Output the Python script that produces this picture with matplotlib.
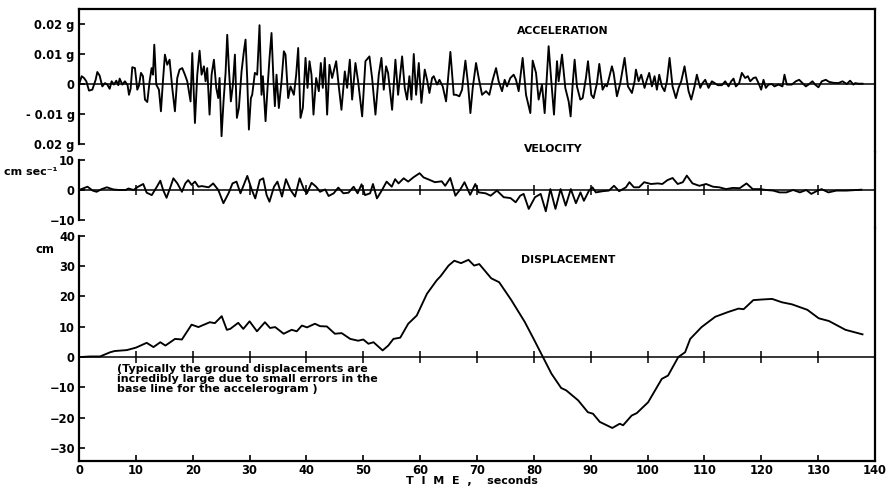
import numpy as np
import matplotlib
matplotlib.use("Agg")
import matplotlib.pyplot as plt

# ---------------- data ----------------
# acceleration: time (s) and value in units of 0.001 g
acc_t = [0.0, 0.47, 0.88, 1.29, 1.76, 2.34, 2.93, 3.22, 3.63, 4.10, 4.57, 4.98, 5.39, 5.74,
         6.15, 6.56, 6.91, 7.15, 7.62, 8.08, 8.55, 8.79, 9.08, 9.37, 9.84, 10.25, 10.54, 10.90,
         11.25, 11.60, 12.01, 12.42, 12.77, 13.01, 13.24, 13.59, 14.06, 14.41, 14.76, 15.11,
         15.52, 15.93, 16.40, 16.87, 17.28, 17.69, 18.16, 18.63, 19.04, 19.62, 19.92, 20.39,
         20.80, 21.21, 21.56, 21.97, 22.26, 22.55, 22.96, 23.32, 23.73, 24.14, 24.49, 24.72,
         25.07, 25.42, 25.78, 26.07, 26.36, 26.71, 27.07, 27.42, 27.77,
         28.12, 28.59, 29.00, 29.29, 29.58, 29.88, 30.23, 30.46, 30.93, 31.34, 31.75, 32.10,
         32.34, 32.81, 33.16, 33.51, 33.86, 34.21, 34.45, 34.74, 35.15, 35.62, 36.03, 36.32,
         36.79, 37.20, 37.79, 38.20, 38.55, 38.96, 39.37, 39.84, 40.19, 40.54, 40.89, 41.24,
         41.71, 42.18, 42.53, 42.88, 43.23, 43.64, 44.05, 44.52, 45.23, 45.69, 46.16, 46.75,
         47.16, 47.63, 48.04, 48.62, 49.09, 49.80, 50.38, 51.08, 51.55, 52.14, 52.72, 53.19,
         53.60, 54.01, 54.36, 55.07, 55.65, 56.12,
         56.83, 57.29, 57.70, 58.11, 58.47, 58.88, 59.29, 59.76, 60.22, 60.81, 61.22, 61.63,
         62.10, 62.39, 62.98, 63.39, 63.97, 64.56, 65.32, 65.91, 66.32, 66.90, 67.37, 67.96,
         68.43, 68.84, 69.25, 69.83, 70.30, 70.89, 71.59, 72.17, 72.76, 73.35, 73.81, 74.40,
         74.87, 75.28, 75.86, 76.45, 76.86, 77.33, 78.03, 78.62, 79.38, 79.79, 80.38, 80.84,
         81.43, 81.90, 82.60, 83.07, 83.54, 84.07,
         84.36, 84.95, 85.53, 86.12, 86.47, 86.82, 87.17, 87.58, 88.17, 88.58, 89.16, 89.52,
         90.10, 90.51, 91.10, 91.51, 92.09, 92.56, 92.85, 93.15, 93.73, 94.03, 94.61, 95.20,
         95.96, 96.55, 97.25, 97.72, 97.95, 98.42, 98.89, 99.47, 99.88, 100.29, 100.76, 101.23,
         101.64, 102.05, 102.52, 102.99, 103.40, 103.87, 104.39, 104.98, 105.45, 105.92,
         106.50, 107.21, 107.68, 108.26, 108.67, 109.26, 109.67, 110.14, 110.72, 111.31,
         111.78, 112.36,
         113.07, 113.65, 114.24, 114.71, 115.12, 115.53, 116.11, 116.58, 117.17, 117.64,
         118.05, 118.63, 119.04, 119.51, 119.98, 120.39, 120.80, 121.27, 121.85, 122.32,
         123.02, 123.73, 124.08, 124.49, 125.37, 126.07, 126.66, 127.24, 127.83, 128.30,
         129.00, 129.47, 130.05, 130.64, 131.34, 131.93, 132.69, 133.57, 134.28, 135.04,
         135.62, 136.21, 136.50, 137.09, 137.81]
acc_mg = [-0.2, 2.6, 2.0, 0.9, -2.2, -1.9, 1.4, 4.0, 2.8, -0.8, 0.3, -0.2, -1.6, 0.9,
          -0.2, 1.1, -0.4, 1.8, -0.2, 0.9, -0.4, -3.6, -1.6, 5.6, 5.3, -1.9, -0.6, 3.7,
          2.6, -5.2, -6.0, 0.9, 5.3, 3.1, 13.1, -0.2, -1.9, -9.1, 0.9, 9.8,
          6.4, 8.1, -1.3, -9.1, 2.0, 4.8, 5.3, 3.1, 0.9, -5.8, 10.3, -13.0,
          3.1, 11.1, 3.1, 5.9, 0.9, 5.3, -10.2, 3.1, 8.1, -1.3, -4.7, 2.0,
          -17.4, -5.8, 3.7, 16.4, 5.3, -5.8, -0.2, 9.8, -11.3,
          -8.0, 4.2, 10.9, 14.8, 2.0, -15.2, -4.7, -3.6, 3.7, 3.1, 19.6, -3.6,
          2.6, -12.4, -1.3, 8.7, 17.0, 0.9, -7.4, 3.1, -8.0, 0.9, 10.9, 9.8,
          -4.7, -0.8, -3.6, 3.1, 12.0, -11.3, -8.0, 8.7, -1.3, 7.6, 3.1, -10.2,
          2.0, -2.4, 7.0, -1.3, 8.7, -10.2, 6.4, 2.0, 7.6, -0.8, -8.6, 4.2,
          -1.3, 8.1, -5.2, 7.0, 0.9, -10.8, 7.6, 9.2, 2.0, -10.2, 3.1, 8.7,
          -1.9, 5.9, 3.7, -8.6, 8.1, -3.6,
          9.2, -1.3, -5.2, 2.6, -5.2, 10.0, -3.6, 7.0, -6.3, 4.8, 1.4, -3.0,
          2.0, 2.6, -0.2, 1.4, -0.8, -5.8, 10.7, -3.6, -3.6, -4.1, -1.9, 7.8,
          -0.2, -9.7, -1.3, 7.0, 2.0, -3.6, -2.4, -3.6, 1.4, 5.3, 0.9, -2.4,
          1.4, -0.8, 2.0, 3.1, 1.4, -2.4, 8.7, -3.6, -9.7, 7.8, 3.7, -5.2,
          -0.2, -9.7, 12.6, 0.9, -10.2, 7.6,
          0.9, 9.8, -1.3, -5.8, -10.8, -0.2, 8.1, -0.8, -5.2, -4.7, 2.0, 7.6,
          -3.6, -4.7, 0.3, 6.7, -1.9, -0.2, -0.8, 1.4, 5.9, 3.7, -4.1, 0.3,
          8.7, -0.8, -3.0, 0.9, 4.8, 0.9, 3.1, -1.3, 1.4, 3.7, -0.8, 2.6,
          -1.9, 3.1, -0.8, -2.4, 0.9, 8.7, -0.8, -4.7, -1.3, 0.9,
          5.9, -2.4, -5.2, -0.8, 3.1, -1.3, 0.3, 1.4, -1.3, 0.9,
          0.3, -0.4,
          -0.4, 0.9, -0.8, 0.9, 1.8, -0.8, 0.3, 3.7, 2.0, 2.6,
          0.9, 2.0, 2.2, 0.3, -1.9, 1.4, -1.3, -0.2, 0.0, -0.8,
          -0.2, -0.8, 3.1, -0.2, -0.2, 0.9, 1.4, 0.3, -0.8, -0.2,
          0.9, -0.2, -1.1, 0.9, 1.4, 0.7, 0.4, 0.3, 0.9, 0.0,
          1.1, -0.2, 0.3, 0.1, 0.1]

# velocity: time (s), cm/sec
vel_t = [0.0, 0.8, 1.5, 2.4, 3.1, 4.0, 4.9, 6.0, 7.0, 8.2, 8.7, 9.6, 10.4, 11.3, 11.9, 12.8,
         13.7, 14.3, 14.8, 15.4, 16.1, 16.6, 17.3, 18.1, 18.7, 19.2, 19.8, 20.4, 21.0, 21.6,
         22.8, 23.6, 24.5, 25.4, 26.3, 27.0, 27.7, 28.4, 29.2, 29.6, 30.4, 31.0, 31.8, 32.4,
         33.0, 33.5, 34.3, 34.9, 35.7, 36.4, 37.2, 38.0, 38.8, 39.6, 40.1, 40.9, 41.7, 42.4,
         43.3, 43.9, 44.8, 45.6, 46.5, 47.4, 48.3, 49.0, 49.7, 50.3, 51.2, 51.7, 52.4, 53.3,
         54.1, 55.0, 55.6, 56.2, 57.1, 57.9, 58.8, 59.9, 60.6, 61.5,
         62.6, 63.8, 64.4, 65.3, 66.2, 67.1, 67.8, 68.8, 69.7, 70.3, 71.5, 72.4, 73.5, 74.7,
         75.9, 76.8, 77.6, 78.2, 79.1, 80.2, 81.2, 82.1, 82.9, 83.8, 84.7, 85.6, 86.5, 87.4,
         88.2, 88.8, 89.7, 90.3, 90.9, 92.1, 93.2, 94.1, 95.0, 96.2, 96.8, 97.6, 98.5, 99.4,
         100.6, 101.8, 102.6, 103.5, 104.4, 105.3, 106.2, 106.9, 107.9, 109.1, 110.3, 111.5,
         112.6, 113.8, 115.0, 116.2, 117.4, 118.5, 119.7, 120.9, 122.1, 123.2, 124.4, 125.6,
         126.8, 127.9, 128.8, 129.7, 130.6, 131.8, 133.2, 135.0, 136.8, 137.6]
vel_v = [0.0, 0.6, 1.1, -0.2, -0.6, 0.3, 0.9, 0.2, 0.0, 0.0, 0.5, 0.0, 1.1, 2.0, -0.9, -1.7,
         1.1, 3.1, 0.0, -2.6, 1.1, 3.9, 2.2, -0.6, 2.2, 3.3, 1.7, 2.8, 1.1, 1.3,
         0.9, 2.2, 0.0, -4.4, -1.1, 2.2, 2.8, -1.1, 2.8, 4.7, 0.0, -2.8, 3.3, 3.9,
         -1.7, -3.9, 1.1, 2.8, -2.2, 3.6, 0.0, -2.2, 3.9, 0.0, -1.1, 2.4, 1.1, -0.6,
         0.2, -2.0, -1.1, 0.8, -1.1, -0.9, 1.1, -1.1, 1.9, -1.7, -1.1, 2.0, -2.8, 0.0,
         2.8, 1.1, 3.6, 2.2, 3.9, 2.8, 4.2, 5.6, 4.2, 3.5,
         2.6, 2.9, 1.4, 4.0, -1.9, 0.3, 2.6, -1.6, 2.0, -0.8, -1.1, -1.9, -0.2, -2.4,
         -2.7, -4.1, -1.9, -1.3, -6.3, -2.4, -1.3, -7.1, 0.3, -6.3, 0.3, -5.2, 0.3, -4.4,
         -0.8, -3.6, -0.2, 0.9, -0.8, -0.4, -0.2, 1.4, -0.4, 0.9, 2.6, 0.9, 0.9, 2.6,
         2.0, 2.2, 2.0, 3.3, 4.0, 2.0, 2.6, 4.8, 2.2, 1.4, 2.0, 1.1,
         0.9, 0.3, 0.7, 0.6, 2.2, 0.3, 0.3, 0.0, -0.2, -0.8, -0.8, 0.0,
         -0.8, 0.0, -1.3, -0.4, 0.3, -0.8, -0.2, -0.2, 0.0, 0.1]

# displacement: time (s), cm
dis_t = [0.0, 2.0, 3.7, 5.5, 6.3, 8.4, 10.0, 11.9, 13.1, 14.3, 15.2, 16.9, 18.1, 19.8, 21.0,
         23.0, 23.9, 25.1, 26.0, 26.6, 28.0, 28.9, 30.0, 31.3, 32.7, 33.6, 34.5, 36.0, 37.4,
         38.3, 39.2, 40.1, 41.5, 42.4, 43.6, 45.0, 46.2, 47.7, 49.1, 50.0, 50.9, 51.8, 53.4,
         54.4, 55.3, 56.5, 57.9, 59.4, 61.2, 62.9, 63.6, 65.0, 66.0, 67.2, 68.5, 69.5, 70.4,
         72.5, 73.9, 76.0, 78.4, 80.1, 81.6, 83.1, 84.8, 85.7, 87.8, 89.5, 90.4, 91.6, 93.8,
         95.1, 95.7, 97.2, 98.1, 100.1, 102.5, 103.6, 105.4, 106.6, 107.5, 109.5, 111.9,
         114.2, 116.0, 116.9, 118.6, 120.1, 121.9, 123.6, 125.4, 128.1, 130.1, 131.9, 134.8,
         137.8]
dis_cm = [0.0, 0.2, 0.2, 1.6, 2.0, 2.3, 3.1, 4.7, 3.3, 4.9, 3.8, 6.0, 5.8, 10.7, 9.9,
          11.5, 11.2, 13.5, 9.0, 9.3, 11.3, 9.3, 11.8, 8.5, 11.5, 9.6, 9.9, 7.7, 9.0,
          8.5, 10.4, 9.8, 11.0, 10.2, 10.1, 7.7, 7.9, 6.0, 5.4, 5.8, 4.4, 4.9, 2.2,
          3.8, 6.0, 6.4, 11.0, 13.7, 20.9, 25.3, 26.7, 30.2, 31.8, 31.0, 32.1, 30.2, 30.7,
          26.0, 24.7, 18.9, 11.6, 5.5, 0.0, -5.5, -10.2, -11.0, -14.3, -18.2, -18.7, -21.4,
          -23.4, -22.0, -22.5, -19.3, -18.5, -14.9, -7.2, -6.1, 0.0, 1.6, 6.0, 9.9, 13.3,
          14.9, 16.0, 15.8, 18.8, 19.0, 19.2, 18.1, 17.4, 15.6, 12.8, 11.9, 9.0,
          7.5]

time_ticks = list(range(0, 150, 10))
acc_ticks = [0.02, 0.01, 0.0, -0.01, -0.02]
acc_labels = ["0.02 g", "0.01 g", "0", "- 0.01 g", "0.02 g"]
vel_ticks = [10, 0, -10]
vel_labels = ["10", "0", "\u221210"]
dis_ticks = [40, 30, 20, 10, 0, -10, -20, -30]
dis_labels = ["40", "30", "20", "10", "0", "\u221210", "\u221220", "\u221230"]

note = ("(Typically the ground displacements are\n"
        "incredibly large due to small errors in the\n"
        "base line for the accelerogram )")

# ---------------- figure ----------------
plt.rcParams['font.family'] = ['DejaVu Sans']
plt.rcParams['font.weight'] = 'bold'
W, H = 887, 487
fig = plt.figure(figsize=(W / 100, H / 100), dpi=100)

L = 79 / W
Wd = (875 - 79) / W
def yf(p):
    return 1 - p / H

ax1 = fig.add_axes([L, yf(152), Wd, (152 - 9) / H])
ax2 = fig.add_axes([L, yf(228), Wd, (228 - 152) / H])
ax3 = fig.add_axes([L, yf(461), Wd, (461 - 228) / H])

LW_FRAME = 1.6
LW_DATA = 1.35
FS = 8.3

for ax in (ax1, ax2, ax3):
    ax.set_xlim(0, 140)
    for s in ax.spines.values():
        s.set_linewidth(LW_FRAME)
    ax.axhline(0, color='black', lw=1.1, zorder=1)
    ax.tick_params(axis='y', direction='in', length=4, width=1.2, pad=3, labelsize=FS)
    ax.tick_params(axis='x', direction='in', length=4, width=1.2, labelsize=FS)

# acceleration
ax1.set_ylim(-0.02267, 0.025)
ax1.plot(acc_t, np.array(acc_mg) * 0.001, color='black', lw=LW_DATA, zorder=2)
ax1.spines['bottom'].set_visible(False)
ax1.spines['left'].set_bounds(-0.02, 0.025)
ax1.set_yticks(acc_ticks)
ax1.set_yticklabels(acc_labels)
ax1.set_xticks([])
ax1.text(77.0, 0.0177, "ACCELERATION", fontsize=7.8, fontweight='bold', ha='left', va='center')

# velocity
ax2.set_ylim(-12.67, 12.67)
ax2.plot(vel_t, vel_v, color='black', lw=LW_DATA, zorder=2)
ax2.spines['top'].set_visible(False)
ax2.spines['bottom'].set_visible(False)
ax2.spines['left'].set_bounds(-10, 10)
ax2.set_yticks(vel_ticks)
ax2.set_yticklabels(vel_labels)
ax2.set_xticks([])
mid = time_ticks[1:-1]
ax2.plot(mid, [0] * len(mid), ls='none', marker='|', ms=7, mew=1.1, color='black')
ax2.text(78.2, 13.7, "VELOCITY", fontsize=7.8, fontweight='bold', ha='left', va='center')
ax2.text(-3.8, 5.9, "cm sec\u207b\u00b9", fontsize=8.0, fontweight='bold', ha='right', va='center')

# displacement
ax3.set_ylim(-34.3, 42.6)
ax3.plot(dis_t, dis_cm, color='black', lw=LW_DATA, zorder=2)
ax3.spines['top'].set_visible(False)
ax3.spines['left'].set_bounds(-34.3, 40)
ax3.set_yticks(dis_ticks)
ax3.set_yticklabels(dis_labels)
ax3.set_xticks(time_ticks)
ax3.set_xticklabels([str(t) for t in time_ticks])
ax3.tick_params(axis='x', pad=2)
ax3.plot(mid, [0] * len(mid), ls='none', marker='|', ms=8, mew=1.1, color='black')
ax3.text(77.8, 32.0, "DISPLACEMENT", fontsize=7.8, fontweight='bold', ha='left', va='center')
ax3.text(-4.3, 35.4, "cm", fontsize=FS, fontweight='bold', ha='right', va='center')
ax3.text(6.7, -2.4, note, fontsize=8.0, fontweight='bold', ha='left', va='top', linespacing=1.0)

fig.text(471.5 / W, yf(481), "T  I  M  E  ,    seconds", fontsize=8.0, fontweight='bold',
         ha='center', va='center')

fig.savefig("out.png", dpi=100)
